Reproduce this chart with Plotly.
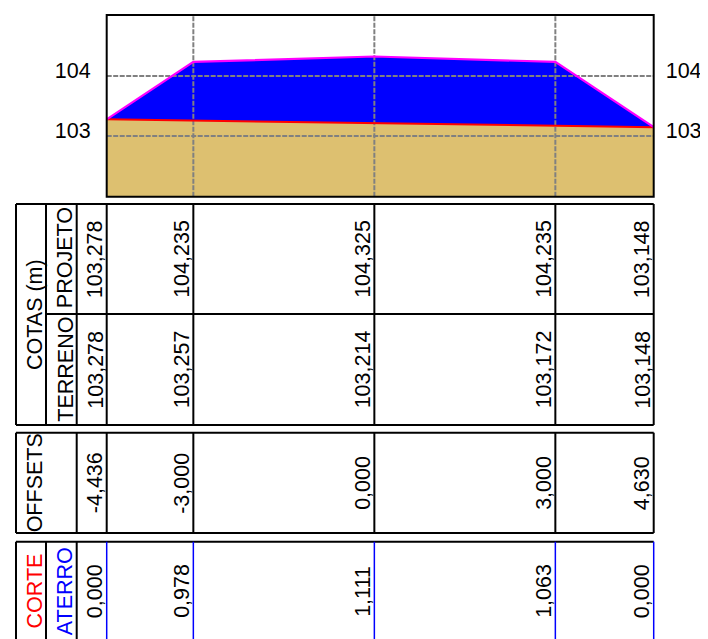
import plotly.graph_objects as go

# ---------------- data ----------------
offsets = [-4.436, -3.000, 0.000, 3.000, 4.630]
cota_projeto = [103.278, 104.235, 104.325, 104.235, 103.148]
cota_terreno = [103.278, 103.257, 103.214, 103.172, 103.148]
aterro = [0.000, 0.978, 1.111, 1.063, 0.000]
y_ticks = [103, 104]
y_tick_labels = ["103", "104"]
y_range = [101.989, 105.017]


def fmt(v):
    return f"{v:.3f}".replace(".", ",")


# ---------------- geometry helpers (layout only) ----------------
OFF = 8  # page body margin
W, H = 708 - OFF, 639 - OFF
FONT = "Liberation Sans, Arial, sans-serif"
FS = 21.5


def PX(p):
    return (p - OFF) / W


def PY(p):
    return 1 - (p - OFF) / H


plot_l, plot_r, plot_t, plot_b = 106.7, 653.7, 15.0, 196.7
col_a, col_b, col_c = 16.0, 46.0, 76.7  # label column lines
s1_top, s1_mid, s1_bot = 204.0, 314.0, 425.0
s2_top, s2_bot = 432.7, 533.0
s3_top, s3_bot = 541.7, 660.0

TAN = "rgb(221,192,112)"
BLUE = "#0000FF"
MAG = "#FF00FF"
RED = "#FF0000"
GRID = "#808080"

fig = go.Figure()

# fills
fig.add_trace(go.Scatter(x=offsets, y=cota_terreno, mode="lines", fill="tozeroy",
                         fillcolor=TAN, line=dict(width=0, color=TAN),
                         hoverinfo="skip", showlegend=False))
fig.add_trace(go.Scatter(x=offsets, y=cota_projeto, mode="lines", fill="tonexty",
                         fillcolor=BLUE, line=dict(width=0, color=BLUE),
                         hoverinfo="skip", showlegend=False))

# grid lines (drawn above the fills)
gx, gy = [], []
for s in offsets[1:-1]:
    gx += [s, s, None]
    gy += [y_range[0], y_range[1], None]
for t in y_ticks:
    gx += [offsets[0], offsets[-1], None]
    gy += [t, t, None]
fig.add_trace(go.Scatter(x=gx, y=gy, mode="lines",
                         line=dict(color=GRID, width=2, dash="5px,1.5px"),
                         hoverinfo="skip", showlegend=False))

# profile lines
fig.add_trace(go.Scatter(x=offsets, y=cota_terreno, mode="lines",
                         line=dict(color=RED, width=2),
                         hoverinfo="skip", showlegend=False))
fig.add_trace(go.Scatter(x=offsets, y=cota_projeto, mode="lines",
                         line=dict(color=MAG, width=2.2),
                         hoverinfo="skip", showlegend=False))
# dummy trace for right axis
fig.add_trace(go.Scatter(x=offsets, y=cota_terreno, yaxis="y2", mode="lines",
                         line=dict(width=0), opacity=0,
                         hoverinfo="skip", showlegend=False))

shapes = []
BLK = dict(color="black", width=2)

# plot frame
shapes.append(dict(type="rect", xref="x domain", yref="y domain", x0=0, x1=1, y0=0, y1=1,
                   line=BLK, layer="above"))


def hline(y, x0p, lw=BLK):
    shapes.append(dict(type="line", xref="paper", yref="paper",
                       x0=PX(x0p), x1=PX(plot_r), y0=PY(y), y1=PY(y), line=lw))


def vline_paper(xp, y0, y1, lw=BLK):
    shapes.append(dict(type="line", xref="paper", yref="paper",
                       x0=PX(xp), x1=PX(xp), y0=PY(y0), y1=PY(y1), line=lw))


def station_line(i, y0, y1, lw):
    if i == 0:
        shapes.append(dict(type="line", xref="x domain", yref="paper", x0=0, x1=0,
                           y0=PY(y0), y1=PY(y1), line=lw))
    elif i == len(offsets) - 1:
        shapes.append(dict(type="line", xref="x domain", yref="paper", x0=1, x1=1,
                           y0=PY(y0), y1=PY(y1), line=lw))
    else:
        shapes.append(dict(type="line", xref="x", yref="paper", x0=offsets[i], x1=offsets[i],
                           y0=PY(y0), y1=PY(y1), line=lw))


# section 1 : COTAS
hline(s1_top, col_a)
hline(s1_bot, col_a)
hline(s1_mid, col_b)
vline_paper(col_a, s1_top, s1_bot)
vline_paper(col_b, s1_top, s1_bot)
vline_paper(col_c, s1_top, s1_bot)
for i in range(len(offsets)):
    station_line(i, s1_top, s1_bot, BLK)

# section 2 : OFFSETS
hline(s2_top, col_a)
hline(s2_bot, col_a)
vline_paper(col_a, s2_top, s2_bot)
vline_paper(col_c, s2_top, s2_bot)
for i in range(len(offsets)):
    station_line(i, s2_top, s2_bot, BLK)

# section 3 : CORTE / ATERRO
hline(s3_top, col_a)
vline_paper(col_a, s3_top, s3_bot)
vline_paper(col_b, s3_top, s3_bot)
vline_paper(col_c, s3_top, s3_bot)
for i in range(len(offsets)):
    station_line(i, s3_top, s3_bot, dict(color=BLUE, width=1.5))

annotations = []
XS = 0.5


def lab(text, xright, yc, color="black"):
    annotations.append(dict(text=text, xref="paper", yref="paper", x=PX(xright), y=PY(yc),
                            xanchor="right", yanchor="middle", textangle=-90, showarrow=False,
                            borderpad=0, borderwidth=0, xshift=XS,
                            font=dict(family=FONT, size=FS, color=color)))


def val(i, text, yc):
    if i == 0:
        xr, x = "x domain", 0
    elif i == len(offsets) - 1:
        xr, x = "x domain", 1
    else:
        xr, x = "x", offsets[i]
    annotations.append(dict(text=text, xref=xr, yref="paper", x=x, y=PY(yc),
                            xanchor="right", yanchor="middle", textangle=-90, showarrow=False,
                            borderpad=0, borderwidth=0, xshift=XS,
                            font=dict(family=FONT, size=FS, color="black")))


lab("COTAS (m)", col_b, (s1_top + s1_bot) / 2)
lab("PROJETO", col_c, 258)
lab("TERRENO", col_c, 369.5)
lab("OFFSETS", col_b, (s2_top + s2_bot) / 2)
lab("CORTE", col_b, 591, RED)
lab("ATERRO", col_c, 591, BLUE)

for i in range(len(offsets)):
    val(i, fmt(cota_projeto[i]), 259)
    val(i, fmt(cota_terreno[i]), 369.5)
    val(i, fmt(offsets[i]), 483)
    val(i, fmt(aterro[i]), 591)

axis_font = dict(family=FONT, size=FS, color="black")
fig.update_layout(
    width=W, height=H,
    margin=dict(l=0, r=0, t=0, b=0),
    paper_bgcolor="white", plot_bgcolor="white",
    showlegend=False,
    xaxis=dict(domain=[PX(plot_l), PX(plot_r)], range=[offsets[0], offsets[-1]],
               showgrid=False, zeroline=False, showticklabels=False, showline=False,
               ticks="", fixedrange=True),
    yaxis=dict(domain=[PY(plot_b), PY(plot_t)], range=y_range,
               tickvals=y_ticks, ticktext=y_tick_labels, tickfont=axis_font,
               showgrid=False, zeroline=False, showline=False, ticks="",
               ticklabelshift=-6, ticklabelstandoff=15, fixedrange=True),
    yaxis2=dict(overlaying="y", side="right", range=y_range,
                tickvals=y_ticks, ticktext=y_tick_labels, tickfont=axis_font,
                showgrid=False, zeroline=False, showline=False, ticks="",
                ticklabelshift=-6, ticklabelstandoff=11, fixedrange=True),
    shapes=shapes,
    annotations=annotations,
)

fig.write_html("out.html")
